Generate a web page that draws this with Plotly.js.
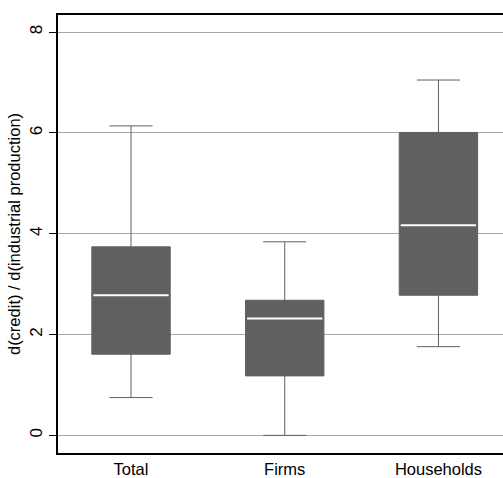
<!DOCTYPE html>
<html>
<head>
<meta charset="utf-8">
<script src="https://cdn.plot.ly/plotly-3.0.1.min.js"></script>
<style>html,body{margin:0;padding:0;background:#fff;}#chart{width:503px;height:478px;}</style>
</head>
<body>
<div id="chart"></div>
<script>
const categories = ["Total", "Firms", "Households"];
const lowerWhisker = [0.75, 0.0, 1.76];
const q1 = [1.61, 1.18, 2.78];
const median = [2.78, 2.32, 4.17];
const q3 = [3.74, 2.68, 6.01];
const upperWhisker = [6.14, 3.84, 7.05];
const yTicks = [0, 2, 4, 6, 8];

const boxTrace = {
  type: "box",
  x: categories,
  q1: q1, median: median, q3: q3,
  lowerfence: lowerWhisker, upperfence: upperWhisker,
  fillcolor: "#606060",
  line: {color: "#606060", width: 1},
  whiskerwidth: 0.55,
  width: 0.51,
  boxpoints: false,
  hoverinfo: "skip",
  showlegend: false
};
const medianTrace = {
  type: "box",
  x: categories,
  q1: median, median: median, q3: median,
  lowerfence: median, upperfence: median,
  fillcolor: "rgba(0,0,0,0)",
  line: {color: "#ffffff", width: 2},
  whiskerwidth: 0,
  width: 0.49,
  boxpoints: false,
  hoverinfo: "skip",
  showlegend: false
};

const layout = {
  width: 503, height: 478,
  margin: {l: 58, r: 0, t: 15, b: 25},
  paper_bgcolor: "#ffffff", plot_bgcolor: "#ffffff",
  font: {family: "Liberation Sans, Arial, sans-serif", size: 16, color: "#000"},
  showlegend: false,
  boxmode: "overlay",
  xaxis: {
    type: "category",
    range: [-0.475, 2.42],
    showline: true, linecolor: "#000", linewidth: 2, mirror: true,
    showgrid: false, zeroline: false, ticks: "",
    tickfont: {size: 16.5}
  },
  yaxis: {
    range: [-0.35, 8.34],
    tickvals: yTicks,
    ticktext: yTicks.map(String),
    tickangle: -90,
    ticks: "outside", ticklen: 7, tickcolor: "#000",
    showline: true, linecolor: "#000", linewidth: 2,
    showgrid: true, gridcolor: "#a8a8a8", gridwidth: 1,
    zeroline: false,
    tickfont: {size: 17},
    title: {text: "d(credit) / d(industrial production)", font: {size: 16.5}, standoff: 2}
  }
};

Plotly.newPlot("chart", [boxTrace, medianTrace], layout, {displayModeBar: false, staticPlot: true});
</script>
</body>
</html>
